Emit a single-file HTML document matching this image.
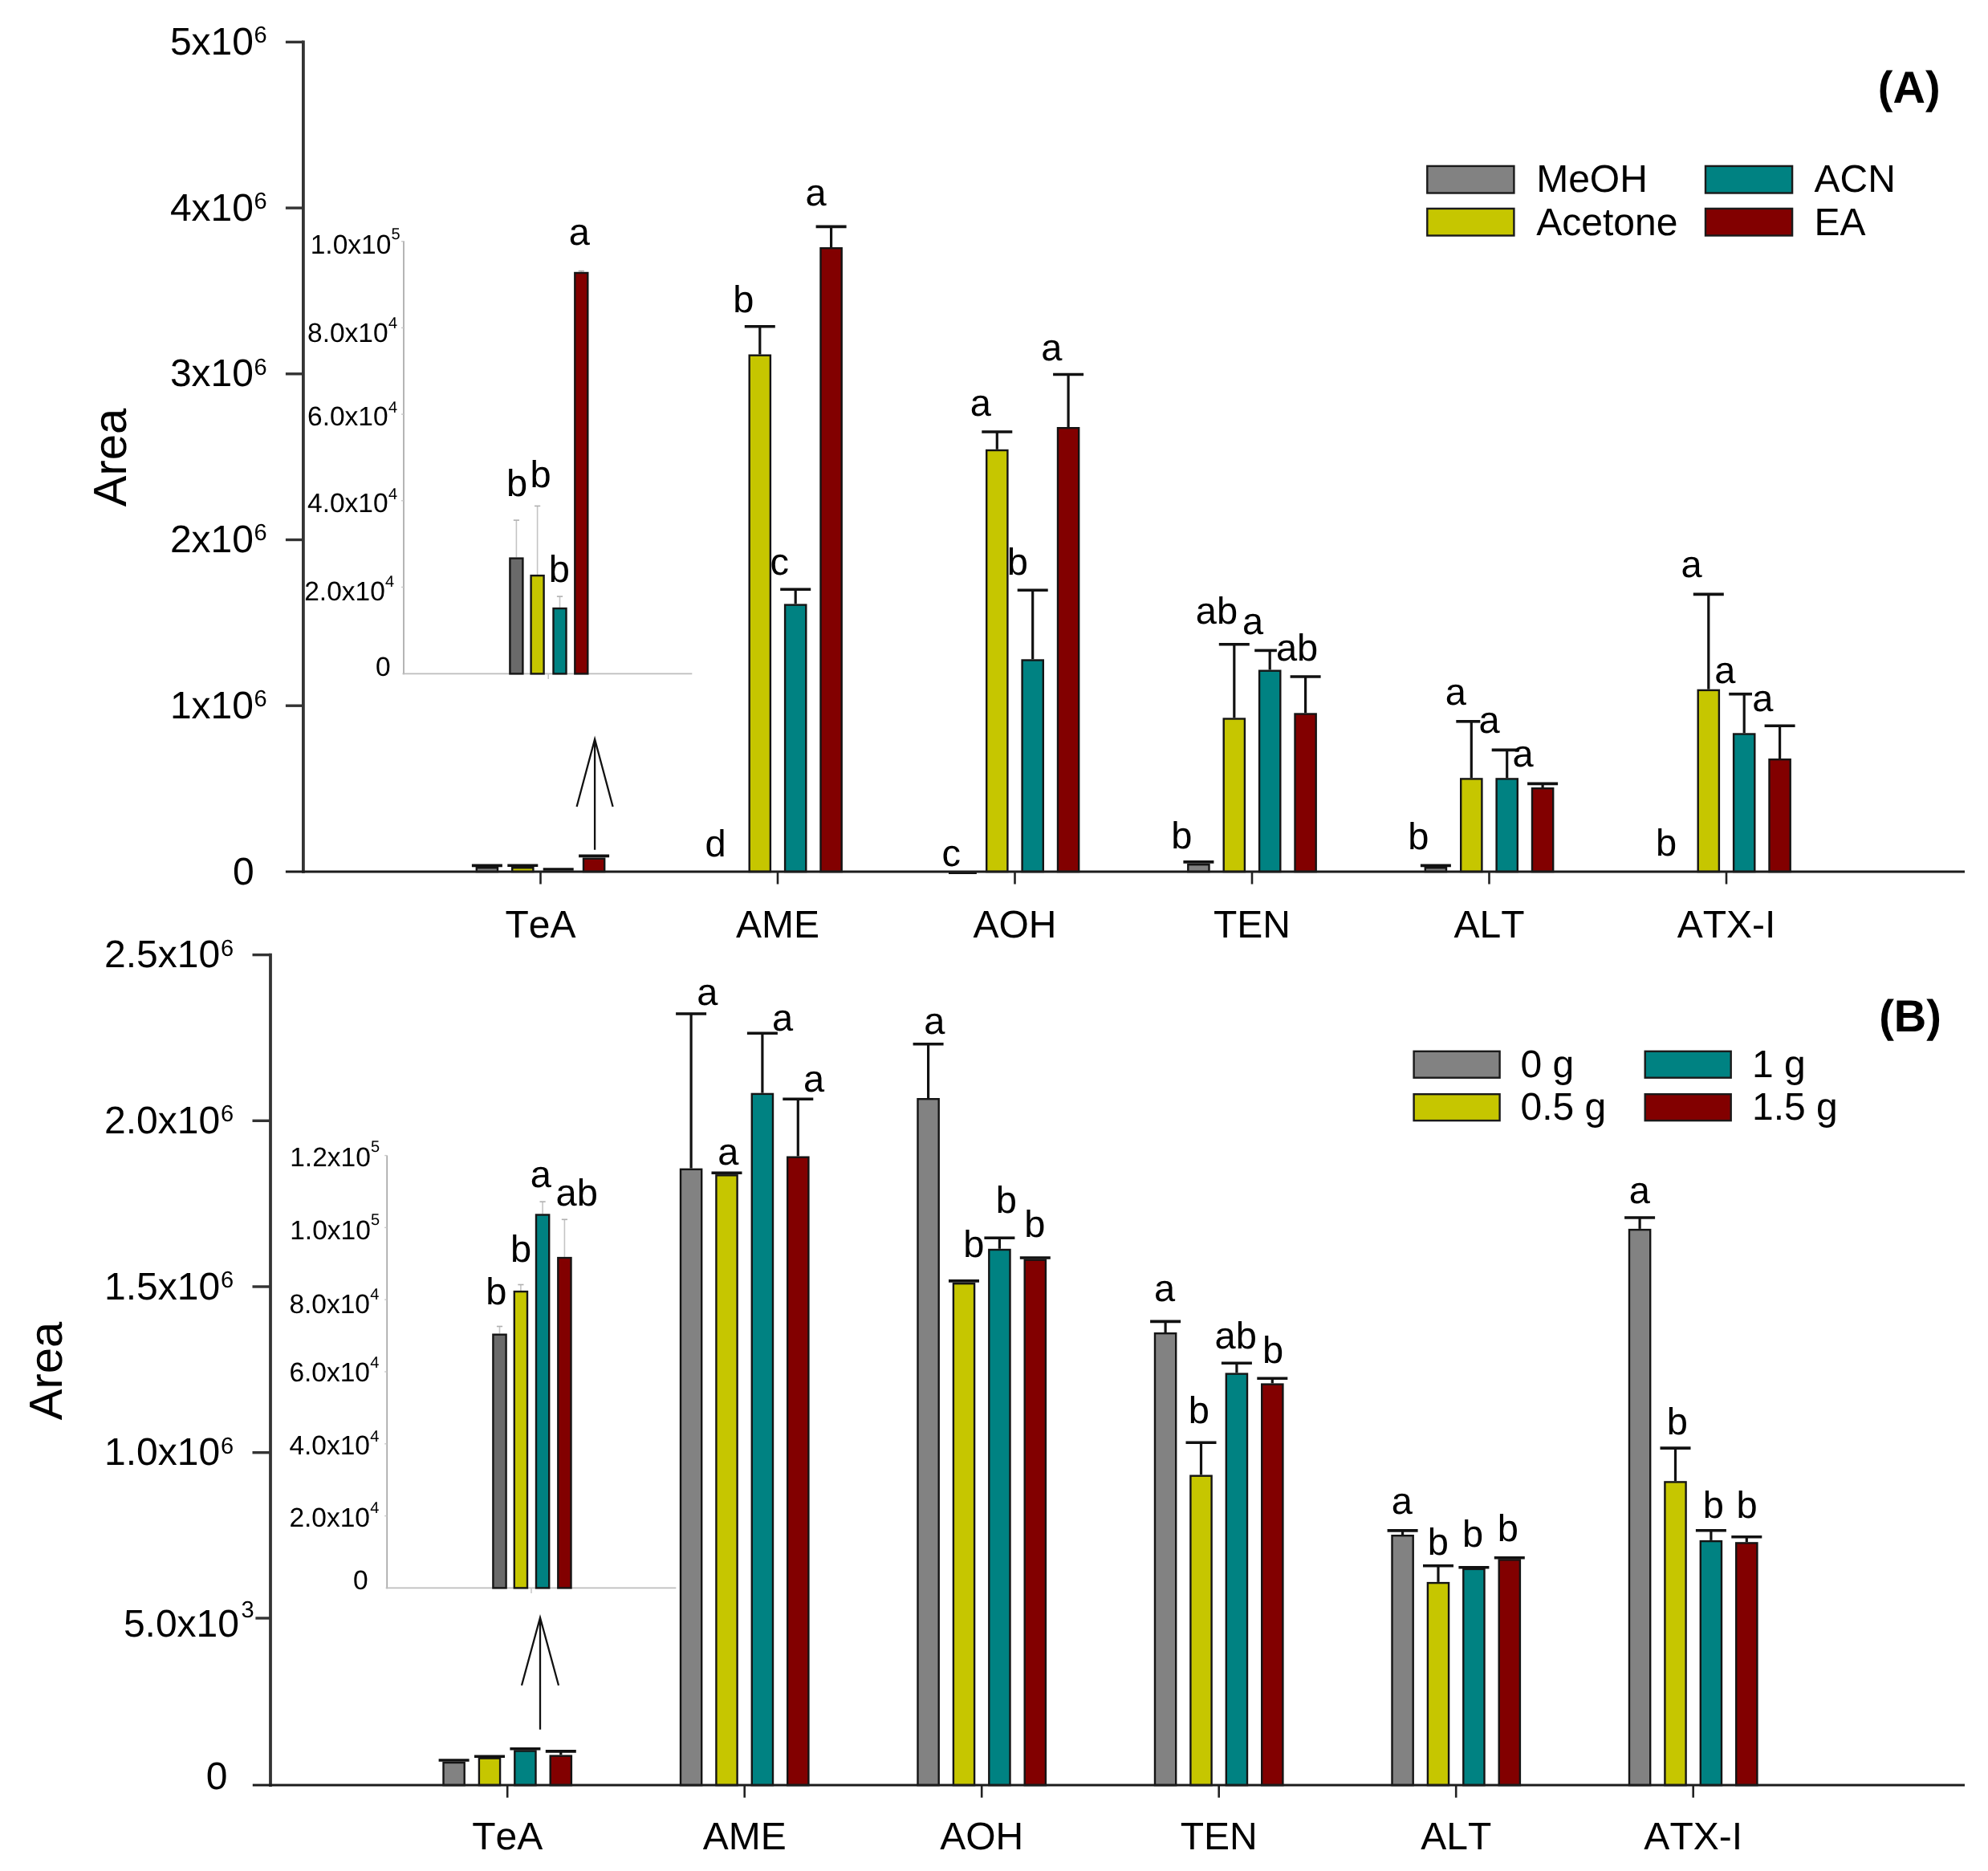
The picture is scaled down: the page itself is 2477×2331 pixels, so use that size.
<!DOCTYPE html>
<html lang="en"><head><meta charset="utf-8"><title>Figure</title>
<style>html,body{margin:0;padding:0;background:#fff}svg{display:block;filter:blur(0.55px)}</style></head>
<body>
<svg width="2477" height="2331" viewBox="0 0 2477 2331" font-family="'Liberation Sans', Arial, sans-serif" fill="#000" style="font-kerning:none" text-rendering="geometricPrecision">
<rect width="2477" height="2331" fill="#fff"/>
<line x1="503" y1="300.3" x2="503" y2="840.2" stroke="#a8a8a8" stroke-width="1.7"/>
<line x1="501.5" y1="839.4" x2="862.3" y2="839.4" stroke="#bdbdbd" stroke-width="1.8"/>
<line x1="683.2" y1="839.4" x2="683.2" y2="845.9" stroke="#c8c8c8" stroke-width="1.6"/>
<line x1="643.4" y1="648.1" x2="643.4" y2="694.4" stroke="#c4c4c4" stroke-width="1.6"/>
<line x1="639.8" y1="648.1" x2="647.0" y2="648.1" stroke="#b0b0b0" stroke-width="1.6"/>
<rect x="635.4" y="695.6" width="16.0" height="143.8" fill="#6a6a6a" stroke="#151515" stroke-width="2.4"/>
<line x1="669.6" y1="630.4" x2="669.6" y2="715.9" stroke="#c4c4c4" stroke-width="1.6"/>
<line x1="666.0" y1="630.4" x2="673.2" y2="630.4" stroke="#b0b0b0" stroke-width="1.6"/>
<rect x="661.6" y="717.1" width="16.0" height="122.3" fill="#c6c600" stroke="#151515" stroke-width="2.4"/>
<line x1="697.5" y1="743.1" x2="697.5" y2="756.8" stroke="#c4c4c4" stroke-width="1.6"/>
<line x1="693.9" y1="743.1" x2="701.1" y2="743.1" stroke="#b0b0b0" stroke-width="1.6"/>
<rect x="689.5" y="758.0" width="16.0" height="81.4" fill="#008282" stroke="#151515" stroke-width="2.4"/>
<line x1="724.3" y1="337.6" x2="724.3" y2="338.8" stroke="#c4c4c4" stroke-width="1.6"/>
<line x1="720.7" y1="337.6" x2="727.9" y2="337.6" stroke="#b0b0b0" stroke-width="1.6"/>
<rect x="716.3" y="340.0" width="16.0" height="499.4" fill="#820000" stroke="#151515" stroke-width="2.4"/>
<line x1="500" y1="300.7" x2="503" y2="300.7" stroke="#c8c8c8" stroke-width="1.4"/>
<line x1="500" y1="408.4" x2="503" y2="408.4" stroke="#c8c8c8" stroke-width="1.4"/>
<line x1="500" y1="516.1" x2="503" y2="516.1" stroke="#c8c8c8" stroke-width="1.4"/>
<line x1="500" y1="623.8" x2="503" y2="623.8" stroke="#c8c8c8" stroke-width="1.4"/>
<line x1="500" y1="731.5" x2="503" y2="731.5" stroke="#c8c8c8" stroke-width="1.4"/>
<text x="644.1" y="618.4" font-size="47" text-anchor="middle">b</text>
<text x="673.6" y="607.3" font-size="47" text-anchor="middle">b</text>
<text x="696.8" y="725.4" font-size="47" text-anchor="middle">b</text>
<text x="721.9" y="304.7" font-size="47" text-anchor="middle">a</text>
<text x="487.3" y="315.9" font-size="33.5" text-anchor="end">1.0x10</text>
<text x="487.6" y="297.7" font-size="20">5</text>
<text x="483.6" y="425.5" font-size="33.5" text-anchor="end">8.0x10</text>
<text x="483.9" y="409.0" font-size="20">4</text>
<text x="483.6" y="530.3" font-size="33.5" text-anchor="end">6.0x10</text>
<text x="483.9" y="513.8" font-size="20">4</text>
<text x="483.6" y="638.2" font-size="33.5" text-anchor="end">4.0x10</text>
<text x="483.9" y="622.0" font-size="20">4</text>
<text x="479.8" y="747.5" font-size="33.5" text-anchor="end">2.0x10</text>
<text x="480.1" y="731.3" font-size="20">4</text>
<text x="486.6" y="841.8" font-size="33.5" text-anchor="end">0</text>
<line x1="482.2" y1="1439.6" x2="482.2" y2="1979.2" stroke="#a8a8a8" stroke-width="1.7"/>
<line x1="480.7" y1="1978.4" x2="842.3" y2="1978.4" stroke="#bdbdbd" stroke-width="1.8"/>
<line x1="662" y1="1978.4" x2="662" y2="1984.9" stroke="#c8c8c8" stroke-width="1.6"/>
<line x1="622.5" y1="1652.5" x2="622.5" y2="1661.5" stroke="#c4c4c4" stroke-width="1.6"/>
<line x1="618.9" y1="1652.5" x2="626.1" y2="1652.5" stroke="#b0b0b0" stroke-width="1.6"/>
<rect x="614.4" y="1662.7" width="16.2" height="315.7" fill="#6a6a6a" stroke="#151515" stroke-width="2.4"/>
<line x1="648.9" y1="1600.5" x2="648.9" y2="1607.9" stroke="#c4c4c4" stroke-width="1.6"/>
<line x1="645.3" y1="1600.5" x2="652.5" y2="1600.5" stroke="#b0b0b0" stroke-width="1.6"/>
<rect x="640.8" y="1609.1" width="16.2" height="369.3" fill="#c6c600" stroke="#151515" stroke-width="2.4"/>
<line x1="676.1" y1="1497.2" x2="676.1" y2="1512.3" stroke="#c4c4c4" stroke-width="1.6"/>
<line x1="672.5" y1="1497.2" x2="679.7" y2="1497.2" stroke="#b0b0b0" stroke-width="1.6"/>
<rect x="668.0" y="1513.5" width="16.2" height="464.9" fill="#008282" stroke="#151515" stroke-width="2.4"/>
<line x1="703.4" y1="1519.3" x2="703.4" y2="1565.9" stroke="#c4c4c4" stroke-width="1.6"/>
<line x1="699.8" y1="1519.3" x2="707.0" y2="1519.3" stroke="#b0b0b0" stroke-width="1.6"/>
<rect x="695.3" y="1567.1" width="16.2" height="411.3" fill="#820000" stroke="#151515" stroke-width="2.4"/>
<line x1="479.2" y1="1439.6" x2="482.2" y2="1439.6" stroke="#c8c8c8" stroke-width="1.4"/>
<line x1="479.2" y1="1529.4" x2="482.2" y2="1529.4" stroke="#c8c8c8" stroke-width="1.4"/>
<line x1="479.2" y1="1619.2" x2="482.2" y2="1619.2" stroke="#c8c8c8" stroke-width="1.4"/>
<line x1="479.2" y1="1709.0" x2="482.2" y2="1709.0" stroke="#c8c8c8" stroke-width="1.4"/>
<line x1="479.2" y1="1798.8" x2="482.2" y2="1798.8" stroke="#c8c8c8" stroke-width="1.4"/>
<line x1="479.2" y1="1888.6" x2="482.2" y2="1888.6" stroke="#c8c8c8" stroke-width="1.4"/>
<text x="618.3" y="1624.6" font-size="47" text-anchor="middle">b</text>
<text x="649.0" y="1571.6" font-size="47" text-anchor="middle">b</text>
<text x="673.7" y="1478.6" font-size="47" text-anchor="middle">a</text>
<text x="718.7" y="1502.0" font-size="47" text-anchor="middle">ab</text>
<text x="461.8" y="1453.2" font-size="33.5" text-anchor="end">1.2x10</text>
<text x="462.1" y="1435.0" font-size="20">5</text>
<text x="461.8" y="1543.9" font-size="33.5" text-anchor="end">1.0x10</text>
<text x="462.1" y="1525.7" font-size="20">5</text>
<text x="461.0" y="1635.5" font-size="33.5" text-anchor="end">8.0x10</text>
<text x="461.3" y="1619.3" font-size="20">4</text>
<text x="461.0" y="1720.5" font-size="33.5" text-anchor="end">6.0x10</text>
<text x="461.3" y="1704.3" font-size="20">4</text>
<text x="461.0" y="1812.0" font-size="33.5" text-anchor="end">4.0x10</text>
<text x="461.3" y="1795.8" font-size="20">4</text>
<text x="461.0" y="1901.5" font-size="33.5" text-anchor="end">2.0x10</text>
<text x="461.3" y="1885.3" font-size="20">4</text>
<text x="458.6" y="1980.0" font-size="33.5" text-anchor="end">0</text>
<line x1="377.9" y1="50.6" x2="377.9" y2="1087.8" stroke="#333" stroke-width="3.8"/>
<rect x="593.8" y="1081.2" width="26.2" height="4.8" fill="#828282" stroke="#141414" stroke-width="2.4"/>
<line x1="587.9" y1="1078.4" x2="625.9" y2="1078.4" stroke="#111" stroke-width="3.6"/>
<rect x="638.2" y="1081.2" width="26.2" height="4.8" fill="#c6c600" stroke="#141414" stroke-width="2.4"/>
<line x1="632.3" y1="1078.2" x2="670.3" y2="1078.2" stroke="#111" stroke-width="3.6"/>
<line x1="676.7" y1="1083.0" x2="714.7" y2="1083.0" stroke="#111" stroke-width="3.6"/>
<rect x="727.0" y="1069.7" width="26.2" height="16.3" fill="#820000" stroke="#141414" stroke-width="2.4"/>
<line x1="721.1" y1="1066.4" x2="759.1" y2="1066.4" stroke="#111" stroke-width="3.6"/>
<text x="891.6" y="1067.3" font-size="47" text-anchor="middle">d</text>
<rect x="933.7" y="442.7" width="26.2" height="643.3" fill="#c6c600" stroke="#141414" stroke-width="2.4"/>
<line x1="946.8" y1="406.8" x2="946.8" y2="441.5" stroke="#111" stroke-width="3.2"/>
<line x1="927.8" y1="406.8" x2="965.8" y2="406.8" stroke="#111" stroke-width="3.6"/>
<text x="926.4" y="388.7" font-size="47" text-anchor="middle">b</text>
<rect x="978.1" y="753.6" width="26.2" height="332.4" fill="#008282" stroke="#141414" stroke-width="2.4"/>
<line x1="991.2" y1="734.3" x2="991.2" y2="752.4" stroke="#111" stroke-width="3.2"/>
<line x1="972.2" y1="734.3" x2="1010.2" y2="734.3" stroke="#111" stroke-width="3.6"/>
<text x="971.3" y="715.6" font-size="47" text-anchor="middle">c</text>
<rect x="1022.5" y="309.2" width="26.2" height="776.8" fill="#820000" stroke="#141414" stroke-width="2.4"/>
<line x1="1035.6" y1="282.4" x2="1035.6" y2="308.0" stroke="#111" stroke-width="3.2"/>
<line x1="1016.6" y1="282.4" x2="1054.6" y2="282.4" stroke="#111" stroke-width="3.6"/>
<text x="1016.5" y="255.8" font-size="47" text-anchor="middle">a</text>
<line x1="1182.0" y1="1087.3" x2="1216.9" y2="1087.3" stroke="#111" stroke-width="3.6"/>
<text x="1185.3" y="1079.3" font-size="47" text-anchor="middle">c</text>
<rect x="1229.2" y="561.0" width="26.2" height="525.0" fill="#c6c600" stroke="#141414" stroke-width="2.4"/>
<line x1="1242.3" y1="538.0" x2="1242.3" y2="559.8" stroke="#111" stroke-width="3.2"/>
<line x1="1223.3" y1="538.0" x2="1261.3" y2="538.0" stroke="#111" stroke-width="3.6"/>
<text x="1221.8" y="517.5" font-size="47" text-anchor="middle">a</text>
<rect x="1273.6" y="822.5" width="26.2" height="263.5" fill="#008282" stroke="#141414" stroke-width="2.4"/>
<line x1="1286.7" y1="735.2" x2="1286.7" y2="821.3" stroke="#111" stroke-width="3.2"/>
<line x1="1267.7" y1="735.2" x2="1305.7" y2="735.2" stroke="#111" stroke-width="3.6"/>
<text x="1267.9" y="715.6" font-size="47" text-anchor="middle">b</text>
<rect x="1318.0" y="533.2" width="26.2" height="552.8" fill="#820000" stroke="#141414" stroke-width="2.4"/>
<line x1="1331.1" y1="466.5" x2="1331.1" y2="532.0" stroke="#111" stroke-width="3.2"/>
<line x1="1312.1" y1="466.5" x2="1350.1" y2="466.5" stroke="#111" stroke-width="3.6"/>
<text x="1310.2" y="449.0" font-size="47" text-anchor="middle">a</text>
<rect x="1480.3" y="1077.2" width="26.2" height="8.8" fill="#828282" stroke="#141414" stroke-width="2.4"/>
<line x1="1474.4" y1="1073.9" x2="1512.4" y2="1073.9" stroke="#111" stroke-width="3.6"/>
<text x="1472.3" y="1057.3" font-size="47" text-anchor="middle">b</text>
<rect x="1524.7" y="895.5" width="26.2" height="190.5" fill="#c6c600" stroke="#141414" stroke-width="2.4"/>
<line x1="1537.8" y1="802.8" x2="1537.8" y2="894.3" stroke="#111" stroke-width="3.2"/>
<line x1="1518.8" y1="802.8" x2="1556.8" y2="802.8" stroke="#111" stroke-width="3.6"/>
<text x="1515.9" y="776.6" font-size="47" text-anchor="middle">ab</text>
<rect x="1569.1" y="835.7" width="26.2" height="250.3" fill="#008282" stroke="#141414" stroke-width="2.4"/>
<line x1="1582.2" y1="810.4" x2="1582.2" y2="834.5" stroke="#111" stroke-width="3.2"/>
<line x1="1563.2" y1="810.4" x2="1590.9" y2="810.4" stroke="#111" stroke-width="3.6"/>
<text x="1561.0" y="790.2" font-size="47" text-anchor="middle">a</text>
<rect x="1613.5" y="889.5" width="26.2" height="196.5" fill="#820000" stroke="#141414" stroke-width="2.4"/>
<line x1="1626.6" y1="843.0" x2="1626.6" y2="888.3" stroke="#111" stroke-width="3.2"/>
<line x1="1607.6" y1="843.0" x2="1645.6" y2="843.0" stroke="#111" stroke-width="3.6"/>
<text x="1616.1" y="823.4" font-size="47" text-anchor="middle">ab</text>
<rect x="1775.8" y="1081.2" width="26.2" height="4.8" fill="#828282" stroke="#141414" stroke-width="2.4"/>
<line x1="1769.9" y1="1078.4" x2="1807.9" y2="1078.4" stroke="#111" stroke-width="3.6"/>
<text x="1767.2" y="1057.9" font-size="47" text-anchor="middle">b</text>
<rect x="1820.2" y="970.4" width="26.2" height="115.6" fill="#c6c600" stroke="#141414" stroke-width="2.4"/>
<line x1="1833.3" y1="898.8" x2="1833.3" y2="969.2" stroke="#111" stroke-width="3.2"/>
<line x1="1814.3" y1="898.8" x2="1844.3" y2="898.8" stroke="#111" stroke-width="3.6"/>
<text x="1813.9" y="877.7" font-size="47" text-anchor="middle">a</text>
<rect x="1864.6" y="970.4" width="26.2" height="115.6" fill="#008282" stroke="#141414" stroke-width="2.4"/>
<line x1="1877.7" y1="934.4" x2="1877.7" y2="969.2" stroke="#111" stroke-width="3.2"/>
<line x1="1858.7" y1="934.4" x2="1893.0" y2="934.4" stroke="#111" stroke-width="3.6"/>
<text x="1855.6" y="913.3" font-size="47" text-anchor="middle">a</text>
<rect x="1909.0" y="982.2" width="26.2" height="103.8" fill="#820000" stroke="#141414" stroke-width="2.4"/>
<line x1="1922.1" y1="976.4" x2="1922.1" y2="981.0" stroke="#111" stroke-width="3.2"/>
<line x1="1903.1" y1="976.4" x2="1941.1" y2="976.4" stroke="#111" stroke-width="3.6"/>
<text x="1897.6" y="955.3" font-size="47" text-anchor="middle">a</text>
<text x="2076.1" y="1066.4" font-size="47" text-anchor="middle">b</text>
<rect x="2115.7" y="859.9" width="26.2" height="226.1" fill="#c6c600" stroke="#141414" stroke-width="2.4"/>
<line x1="2128.8" y1="740.4" x2="2128.8" y2="858.7" stroke="#111" stroke-width="3.2"/>
<line x1="2109.8" y1="740.4" x2="2147.8" y2="740.4" stroke="#111" stroke-width="3.6"/>
<text x="2107.5" y="719.2" font-size="47" text-anchor="middle">a</text>
<rect x="2160.1" y="914.5" width="26.2" height="171.5" fill="#008282" stroke="#141414" stroke-width="2.4"/>
<line x1="2173.2" y1="864.7" x2="2173.2" y2="913.3" stroke="#111" stroke-width="3.2"/>
<line x1="2154.2" y1="864.7" x2="2183.0" y2="864.7" stroke="#111" stroke-width="3.6"/>
<text x="2149.4" y="850.5" font-size="47" text-anchor="middle">a</text>
<rect x="2204.5" y="946.2" width="26.2" height="139.8" fill="#820000" stroke="#141414" stroke-width="2.4"/>
<line x1="2217.6" y1="904.3" x2="2217.6" y2="945.0" stroke="#111" stroke-width="3.2"/>
<line x1="2198.6" y1="904.3" x2="2236.6" y2="904.3" stroke="#111" stroke-width="3.6"/>
<text x="2196.2" y="885.9" font-size="47" text-anchor="middle">a</text>
<line x1="355.9" y1="1086" x2="2448" y2="1086" stroke="#1c1c1c" stroke-width="3.0"/>
<line x1="355.9" y1="52.4" x2="377.9" y2="52.4" stroke="#333" stroke-width="3.4"/>
<line x1="355.9" y1="259.1" x2="377.9" y2="259.1" stroke="#333" stroke-width="3.4"/>
<line x1="355.9" y1="465.8" x2="377.9" y2="465.8" stroke="#333" stroke-width="3.4"/>
<line x1="355.9" y1="672.5" x2="377.9" y2="672.5" stroke="#333" stroke-width="3.4"/>
<line x1="355.9" y1="879.2" x2="377.9" y2="879.2" stroke="#333" stroke-width="3.4"/>
<line x1="673.5" y1="1086" x2="673.5" y2="1101.5" stroke="#222" stroke-width="2.6"/>
<text x="673.5" y="1167.5" font-size="48" text-anchor="middle">TeA</text>
<line x1="969.0" y1="1086" x2="969.0" y2="1101.5" stroke="#222" stroke-width="2.6"/>
<text x="969.0" y="1167.5" font-size="48" text-anchor="middle">AME</text>
<line x1="1264.5" y1="1086" x2="1264.5" y2="1101.5" stroke="#222" stroke-width="2.6"/>
<text x="1264.5" y="1167.5" font-size="48" text-anchor="middle">AOH</text>
<line x1="1560.0" y1="1086" x2="1560.0" y2="1101.5" stroke="#222" stroke-width="2.6"/>
<text x="1560.0" y="1167.5" font-size="48" text-anchor="middle">TEN</text>
<line x1="1855.5" y1="1086" x2="1855.5" y2="1101.5" stroke="#222" stroke-width="2.6"/>
<text x="1855.5" y="1167.5" font-size="48" text-anchor="middle">ALT</text>
<line x1="2151.0" y1="1086" x2="2151.0" y2="1101.5" stroke="#222" stroke-width="2.6"/>
<text x="2151.0" y="1167.5" font-size="48" text-anchor="middle">ATX-I</text>
<line x1="337" y1="1187.8" x2="337" y2="2225.9" stroke="#333" stroke-width="3.8"/>
<rect x="552.5" y="2196.0" width="26.2" height="28.1" fill="#828282" stroke="#141414" stroke-width="2.4"/>
<line x1="546.6" y1="2193.0" x2="584.6" y2="2193.0" stroke="#111" stroke-width="3.6"/>
<rect x="596.9" y="2190.6" width="26.2" height="33.5" fill="#c6c600" stroke="#141414" stroke-width="2.4"/>
<line x1="591.0" y1="2188.3" x2="629.0" y2="2188.3" stroke="#111" stroke-width="3.6"/>
<rect x="641.3" y="2181.5" width="26.2" height="42.6" fill="#008282" stroke="#141414" stroke-width="2.4"/>
<line x1="635.4" y1="2178.8" x2="673.4" y2="2178.8" stroke="#111" stroke-width="3.6"/>
<rect x="685.7" y="2187.6" width="26.2" height="36.5" fill="#820000" stroke="#141414" stroke-width="2.4"/>
<line x1="698.8" y1="2181.9" x2="698.8" y2="2186.4" stroke="#111" stroke-width="3.2"/>
<line x1="679.8" y1="2181.9" x2="717.8" y2="2181.9" stroke="#111" stroke-width="3.6"/>
<rect x="848.0" y="1456.8" width="26.2" height="767.3" fill="#828282" stroke="#141414" stroke-width="2.4"/>
<line x1="861.1" y1="1263.0" x2="861.1" y2="1455.6" stroke="#111" stroke-width="3.2"/>
<line x1="842.1" y1="1263.0" x2="880.1" y2="1263.0" stroke="#111" stroke-width="3.6"/>
<text x="881.2" y="1251.8" font-size="47" text-anchor="middle">a</text>
<rect x="892.4" y="1464.3" width="26.2" height="759.8" fill="#c6c600" stroke="#141414" stroke-width="2.4"/>
<line x1="886.5" y1="1461.3" x2="924.5" y2="1461.3" stroke="#111" stroke-width="3.6"/>
<text x="907.2" y="1450.8" font-size="47" text-anchor="middle">a</text>
<rect x="936.8" y="1362.9" width="26.2" height="861.2" fill="#008282" stroke="#141414" stroke-width="2.4"/>
<line x1="949.9" y1="1287.2" x2="949.9" y2="1361.7" stroke="#111" stroke-width="3.2"/>
<line x1="930.9" y1="1287.2" x2="968.9" y2="1287.2" stroke="#111" stroke-width="3.6"/>
<text x="975.0" y="1284.1" font-size="47" text-anchor="middle">a</text>
<rect x="981.2" y="1441.7" width="26.2" height="782.4" fill="#820000" stroke="#141414" stroke-width="2.4"/>
<line x1="994.3" y1="1369.3" x2="994.3" y2="1440.5" stroke="#111" stroke-width="3.2"/>
<line x1="975.3" y1="1369.3" x2="1013.3" y2="1369.3" stroke="#111" stroke-width="3.6"/>
<text x="1014.0" y="1360.2" font-size="47" text-anchor="middle">a</text>
<rect x="1143.5" y="1369.2" width="26.2" height="854.9" fill="#828282" stroke="#141414" stroke-width="2.4"/>
<line x1="1156.6" y1="1300.7" x2="1156.6" y2="1368.0" stroke="#111" stroke-width="3.2"/>
<line x1="1137.6" y1="1300.7" x2="1175.6" y2="1300.7" stroke="#111" stroke-width="3.6"/>
<text x="1164.3" y="1287.8" font-size="47" text-anchor="middle">a</text>
<rect x="1187.9" y="1599.2" width="26.2" height="624.9" fill="#c6c600" stroke="#141414" stroke-width="2.4"/>
<line x1="1182.0" y1="1595.9" x2="1220.0" y2="1595.9" stroke="#111" stroke-width="3.6"/>
<text x="1213.2" y="1566.4" font-size="47" text-anchor="middle">b</text>
<rect x="1232.3" y="1557.0" width="26.2" height="667.1" fill="#008282" stroke="#141414" stroke-width="2.4"/>
<line x1="1245.4" y1="1542.2" x2="1245.4" y2="1555.8" stroke="#111" stroke-width="3.2"/>
<line x1="1226.4" y1="1542.2" x2="1264.4" y2="1542.2" stroke="#111" stroke-width="3.6"/>
<text x="1253.9" y="1511.4" font-size="47" text-anchor="middle">b</text>
<rect x="1276.7" y="1569.7" width="26.2" height="654.4" fill="#820000" stroke="#141414" stroke-width="2.4"/>
<line x1="1270.8" y1="1567.0" x2="1308.8" y2="1567.0" stroke="#111" stroke-width="3.6"/>
<text x="1289.4" y="1540.7" font-size="47" text-anchor="middle">b</text>
<rect x="1439.0" y="1661.2" width="26.2" height="562.9" fill="#828282" stroke="#141414" stroke-width="2.4"/>
<line x1="1452.1" y1="1646.4" x2="1452.1" y2="1660.0" stroke="#111" stroke-width="3.2"/>
<line x1="1433.1" y1="1646.4" x2="1471.1" y2="1646.4" stroke="#111" stroke-width="3.6"/>
<text x="1451.0" y="1620.7" font-size="47" text-anchor="middle">a</text>
<rect x="1483.4" y="1838.7" width="26.2" height="385.4" fill="#c6c600" stroke="#141414" stroke-width="2.4"/>
<line x1="1496.5" y1="1797.3" x2="1496.5" y2="1837.5" stroke="#111" stroke-width="3.2"/>
<line x1="1477.5" y1="1797.3" x2="1515.5" y2="1797.3" stroke="#111" stroke-width="3.6"/>
<text x="1493.7" y="1773.2" font-size="47" text-anchor="middle">b</text>
<rect x="1527.8" y="1711.6" width="26.2" height="512.5" fill="#008282" stroke="#141414" stroke-width="2.4"/>
<line x1="1540.9" y1="1698.3" x2="1540.9" y2="1710.4" stroke="#111" stroke-width="3.2"/>
<line x1="1521.9" y1="1698.3" x2="1559.9" y2="1698.3" stroke="#111" stroke-width="3.6"/>
<text x="1539.7" y="1679.6" font-size="47" text-anchor="middle">ab</text>
<rect x="1572.2" y="1724.6" width="26.2" height="499.5" fill="#820000" stroke="#141414" stroke-width="2.4"/>
<line x1="1585.3" y1="1717.3" x2="1585.3" y2="1723.4" stroke="#111" stroke-width="3.2"/>
<line x1="1566.3" y1="1717.3" x2="1604.3" y2="1717.3" stroke="#111" stroke-width="3.6"/>
<text x="1586.0" y="1697.7" font-size="47" text-anchor="middle">b</text>
<rect x="1734.5" y="1913.2" width="26.2" height="310.9" fill="#828282" stroke="#141414" stroke-width="2.4"/>
<line x1="1747.6" y1="1906.9" x2="1747.6" y2="1912.0" stroke="#111" stroke-width="3.2"/>
<line x1="1728.6" y1="1906.9" x2="1766.6" y2="1906.9" stroke="#111" stroke-width="3.6"/>
<text x="1746.8" y="1885.5" font-size="47" text-anchor="middle">a</text>
<rect x="1778.9" y="1972.1" width="26.2" height="252.0" fill="#c6c600" stroke="#141414" stroke-width="2.4"/>
<line x1="1792.0" y1="1950.7" x2="1792.0" y2="1970.9" stroke="#111" stroke-width="3.2"/>
<line x1="1773.0" y1="1950.7" x2="1811.0" y2="1950.7" stroke="#111" stroke-width="3.6"/>
<text x="1791.7" y="1936.8" font-size="47" text-anchor="middle">b</text>
<rect x="1823.3" y="1954.9" width="26.2" height="269.2" fill="#008282" stroke="#141414" stroke-width="2.4"/>
<line x1="1817.4" y1="1952.8" x2="1855.4" y2="1952.8" stroke="#111" stroke-width="3.6"/>
<text x="1835.0" y="1926.5" font-size="47" text-anchor="middle">b</text>
<rect x="1867.7" y="1943.4" width="26.2" height="280.7" fill="#820000" stroke="#141414" stroke-width="2.4"/>
<line x1="1861.8" y1="1940.7" x2="1899.8" y2="1940.7" stroke="#111" stroke-width="3.6"/>
<text x="1878.8" y="1919.6" font-size="47" text-anchor="middle">b</text>
<rect x="2030.0" y="1532.1" width="26.2" height="692.0" fill="#828282" stroke="#141414" stroke-width="2.4"/>
<line x1="2043.1" y1="1517.0" x2="2043.1" y2="1530.9" stroke="#111" stroke-width="3.2"/>
<line x1="2024.1" y1="1517.0" x2="2062.1" y2="1517.0" stroke="#111" stroke-width="3.6"/>
<text x="2042.7" y="1498.8" font-size="47" text-anchor="middle">a</text>
<rect x="2074.4" y="1846.4" width="26.2" height="377.7" fill="#c6c600" stroke="#141414" stroke-width="2.4"/>
<line x1="2087.5" y1="1804.1" x2="2087.5" y2="1845.2" stroke="#111" stroke-width="3.2"/>
<line x1="2068.5" y1="1804.1" x2="2106.5" y2="1804.1" stroke="#111" stroke-width="3.6"/>
<text x="2089.9" y="1787.4" font-size="47" text-anchor="middle">b</text>
<rect x="2118.8" y="1920.1" width="26.2" height="304.0" fill="#008282" stroke="#141414" stroke-width="2.4"/>
<line x1="2131.9" y1="1906.7" x2="2131.9" y2="1918.9" stroke="#111" stroke-width="3.2"/>
<line x1="2112.9" y1="1906.7" x2="2150.9" y2="1906.7" stroke="#111" stroke-width="3.6"/>
<text x="2134.9" y="1890.7" font-size="47" text-anchor="middle">b</text>
<rect x="2163.2" y="1922.4" width="26.2" height="301.7" fill="#820000" stroke="#141414" stroke-width="2.4"/>
<line x1="2176.3" y1="1914.8" x2="2176.3" y2="1921.2" stroke="#111" stroke-width="3.2"/>
<line x1="2157.3" y1="1914.8" x2="2195.3" y2="1914.8" stroke="#111" stroke-width="3.6"/>
<text x="2176.6" y="1890.7" font-size="47" text-anchor="middle">b</text>
<line x1="314.8" y1="2224.1" x2="2448" y2="2224.1" stroke="#1c1c1c" stroke-width="3.0"/>
<line x1="314.5" y1="1189.6" x2="337" y2="1189.6" stroke="#333" stroke-width="3.4"/>
<line x1="314.5" y1="1396.3" x2="337" y2="1396.3" stroke="#333" stroke-width="3.4"/>
<line x1="314.5" y1="1603.0" x2="337" y2="1603.0" stroke="#333" stroke-width="3.4"/>
<line x1="314.5" y1="1809.7" x2="337" y2="1809.7" stroke="#333" stroke-width="3.4"/>
<line x1="318.4" y1="2016.0" x2="337" y2="2016.0" stroke="#333" stroke-width="3.4"/>
<line x1="632.2" y1="2224.1" x2="632.2" y2="2239.6" stroke="#222" stroke-width="2.6"/>
<text x="632.2" y="2304.3" font-size="48" text-anchor="middle">TeA</text>
<line x1="927.7" y1="2224.1" x2="927.7" y2="2239.6" stroke="#222" stroke-width="2.6"/>
<text x="927.7" y="2304.3" font-size="48" text-anchor="middle">AME</text>
<line x1="1223.2" y1="2224.1" x2="1223.2" y2="2239.6" stroke="#222" stroke-width="2.6"/>
<text x="1223.2" y="2304.3" font-size="48" text-anchor="middle">AOH</text>
<line x1="1518.7" y1="2224.1" x2="1518.7" y2="2239.6" stroke="#222" stroke-width="2.6"/>
<text x="1518.7" y="2304.3" font-size="48" text-anchor="middle">TEN</text>
<line x1="1814.2" y1="2224.1" x2="1814.2" y2="2239.6" stroke="#222" stroke-width="2.6"/>
<text x="1814.2" y="2304.3" font-size="48" text-anchor="middle">ALT</text>
<line x1="2109.7" y1="2224.1" x2="2109.7" y2="2239.6" stroke="#222" stroke-width="2.6"/>
<text x="2109.7" y="2304.3" font-size="48" text-anchor="middle">ATX-I</text>
<text x="316.0" y="67.9" font-size="48" text-anchor="end">5x10</text>
<text x="316.6" y="53.3" font-size="29">6</text>
<text x="316.0" y="274.6" font-size="48" text-anchor="end">4x10</text>
<text x="316.6" y="260.0" font-size="29">6</text>
<text x="316.0" y="481.3" font-size="48" text-anchor="end">3x10</text>
<text x="316.6" y="466.7" font-size="29">6</text>
<text x="316.0" y="688.0" font-size="48" text-anchor="end">2x10</text>
<text x="316.6" y="673.4" font-size="29">6</text>
<text x="316.0" y="894.7" font-size="48" text-anchor="end">1x10</text>
<text x="316.6" y="880.1" font-size="29">6</text>
<text x="316.6" y="1102.0" font-size="48" text-anchor="end">0</text>
<text x="274.2" y="1205.2" font-size="48" text-anchor="end">2.5x10</text>
<text x="275.0" y="1190.6" font-size="29">6</text>
<text x="274.2" y="1411.9" font-size="48" text-anchor="end">2.0x10</text>
<text x="275.0" y="1397.3" font-size="29">6</text>
<text x="274.2" y="1618.6" font-size="48" text-anchor="end">1.5x10</text>
<text x="275.0" y="1604.0" font-size="29">6</text>
<text x="274.2" y="1825.3" font-size="48" text-anchor="end">1.0x10</text>
<text x="275.0" y="1810.7" font-size="29">6</text>
<text x="298.0" y="2039.0" font-size="48" text-anchor="end">5.0x10</text>
<text x="300.5" y="2014.7" font-size="29">3</text>
<text x="283.5" y="2229.2" font-size="48" text-anchor="end">0</text>
<text transform="translate(156.8,570) rotate(-90)" font-size="58" text-anchor="middle">Area</text>
<text transform="translate(76.8,1708) rotate(-90)" font-size="58" text-anchor="middle">Area</text>
<path d="M741.1 1058.8 L741.1 921 M718.6 1005 L741.1 921 L763.6 1005" fill="none" stroke="#111" stroke-width="2.3" stroke-linejoin="miter"/>
<path d="M673 2154.7 L673 2015.3 M650 2099.8 L673 2015.3 L696 2099.8" fill="none" stroke="#111" stroke-width="2.3" stroke-linejoin="miter"/>
<rect x="1778.3" y="206.9" width="108.1" height="33.6" fill="#828282" stroke="#1a1a1a" stroke-width="2.4"/>
<rect x="1778.3" y="259.9" width="108.1" height="33.6" fill="#c6c600" stroke="#1a1a1a" stroke-width="2.4"/>
<rect x="2125.0" y="206.9" width="108.1" height="33.6" fill="#008282" stroke="#1a1a1a" stroke-width="2.4"/>
<rect x="2125.0" y="259.9" width="108.1" height="33.6" fill="#820000" stroke="#1a1a1a" stroke-width="2.4"/>
<text x="1914.2" y="239.3" font-size="48">MeOH</text>
<text x="1914.2" y="292.5" font-size="48">Acetone</text>
<text x="2260.5" y="239.3" font-size="48">ACN</text>
<text x="2260.5" y="292.5" font-size="48">EA</text>
<rect x="1761.6" y="1309.8" width="107.0" height="32.9" fill="#828282" stroke="#1a1a1a" stroke-width="2.4"/>
<rect x="1761.6" y="1363.2" width="107.0" height="32.9" fill="#c6c600" stroke="#1a1a1a" stroke-width="2.4"/>
<rect x="2049.7" y="1309.8" width="107.0" height="32.9" fill="#008282" stroke="#1a1a1a" stroke-width="2.4"/>
<rect x="2049.7" y="1363.2" width="107.0" height="32.9" fill="#820000" stroke="#1a1a1a" stroke-width="2.4"/>
<text x="1894.5" y="1342" font-size="48">0 g</text>
<text x="1894.5" y="1394.7" font-size="48">0.5 g</text>
<text x="2183" y="1342" font-size="48">1 g</text>
<text x="2183" y="1394.7" font-size="48">1.5 g</text>
<text x="2378.7" y="128.4" font-size="56" font-weight="bold" text-anchor="middle">(A)</text>
<text x="2380" y="1285.3" font-size="56" font-weight="bold" text-anchor="middle">(B)</text>
</svg>
</body></html>
